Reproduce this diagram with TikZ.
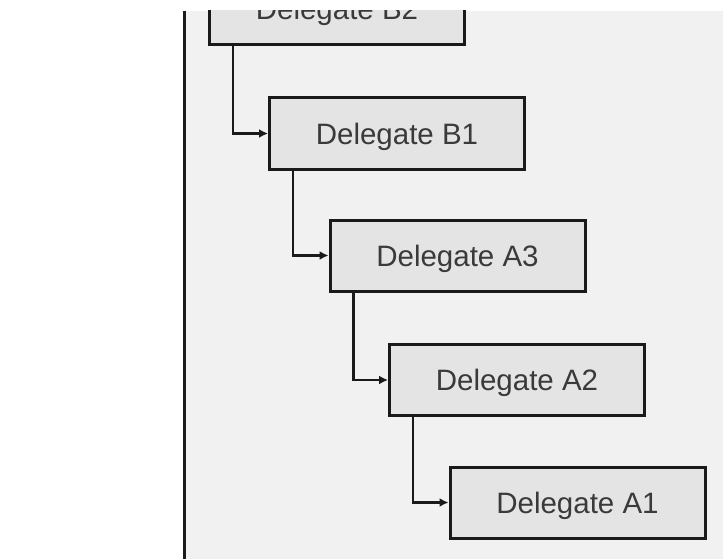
\documentclass[tikz,border=0pt]{standalone}
\usepackage{fontspec}
\setmainfont{Liberation Sans}
\usetikzlibrary{arrows.meta}
\definecolor{panel}{HTML}{F1F1F1}
\definecolor{boxfill}{HTML}{E4E4E4}
\definecolor{ink}{HTML}{1A1A1A}
\definecolor{txt}{HTML}{3A3A3A}
\begin{document}
\begin{tikzpicture}[x=1pt,y=-1pt,
  delbox/.style={draw=ink, line width=3pt, fill=boxfill, minimum width=255pt, minimum height=71pt, inner sep=0pt, text height=21pt, text depth=0pt, text=txt, font=\fontsize{29.5}{34}\selectfont},
  conn/.style={draw=ink, line width=2.8pt, -{Latex[length=9pt,width=9pt]}}]
\useasboundingbox (0,0) rectangle (725,559);
\fill[white] (0,0) rectangle (725,559);
\fill[panel] (186,11) rectangle (723,559);
\draw[ink, line width=3pt] (184.5,11) -- (184.5,559);
\begin{scope}
  \clip (186,11) rectangle (723,559);
  \node[delbox] (b2) at (337,9) {Delegate B2};
\end{scope}
\node[delbox] (b1) at (397,133.5) {Delegate B1};
\node[delbox] (a3) at (457.5,255.5) {Delegate A3};
\node[delbox] (a2) at (517,380) {Delegate A2};
\node[delbox] (a1) at (577.5,502.5) {Delegate A1};
\draw[conn] ([xshift=25pt]b2.south west) |- (b1.west);
\draw[conn] ([xshift=25pt]b1.south west) |- (a3.west);
\draw[conn] ([xshift=25pt]a3.south west) |- (a2.west);
\draw[conn] ([xshift=25pt]a2.south west) |- (a1.west);
\end{tikzpicture}
\end{document}
